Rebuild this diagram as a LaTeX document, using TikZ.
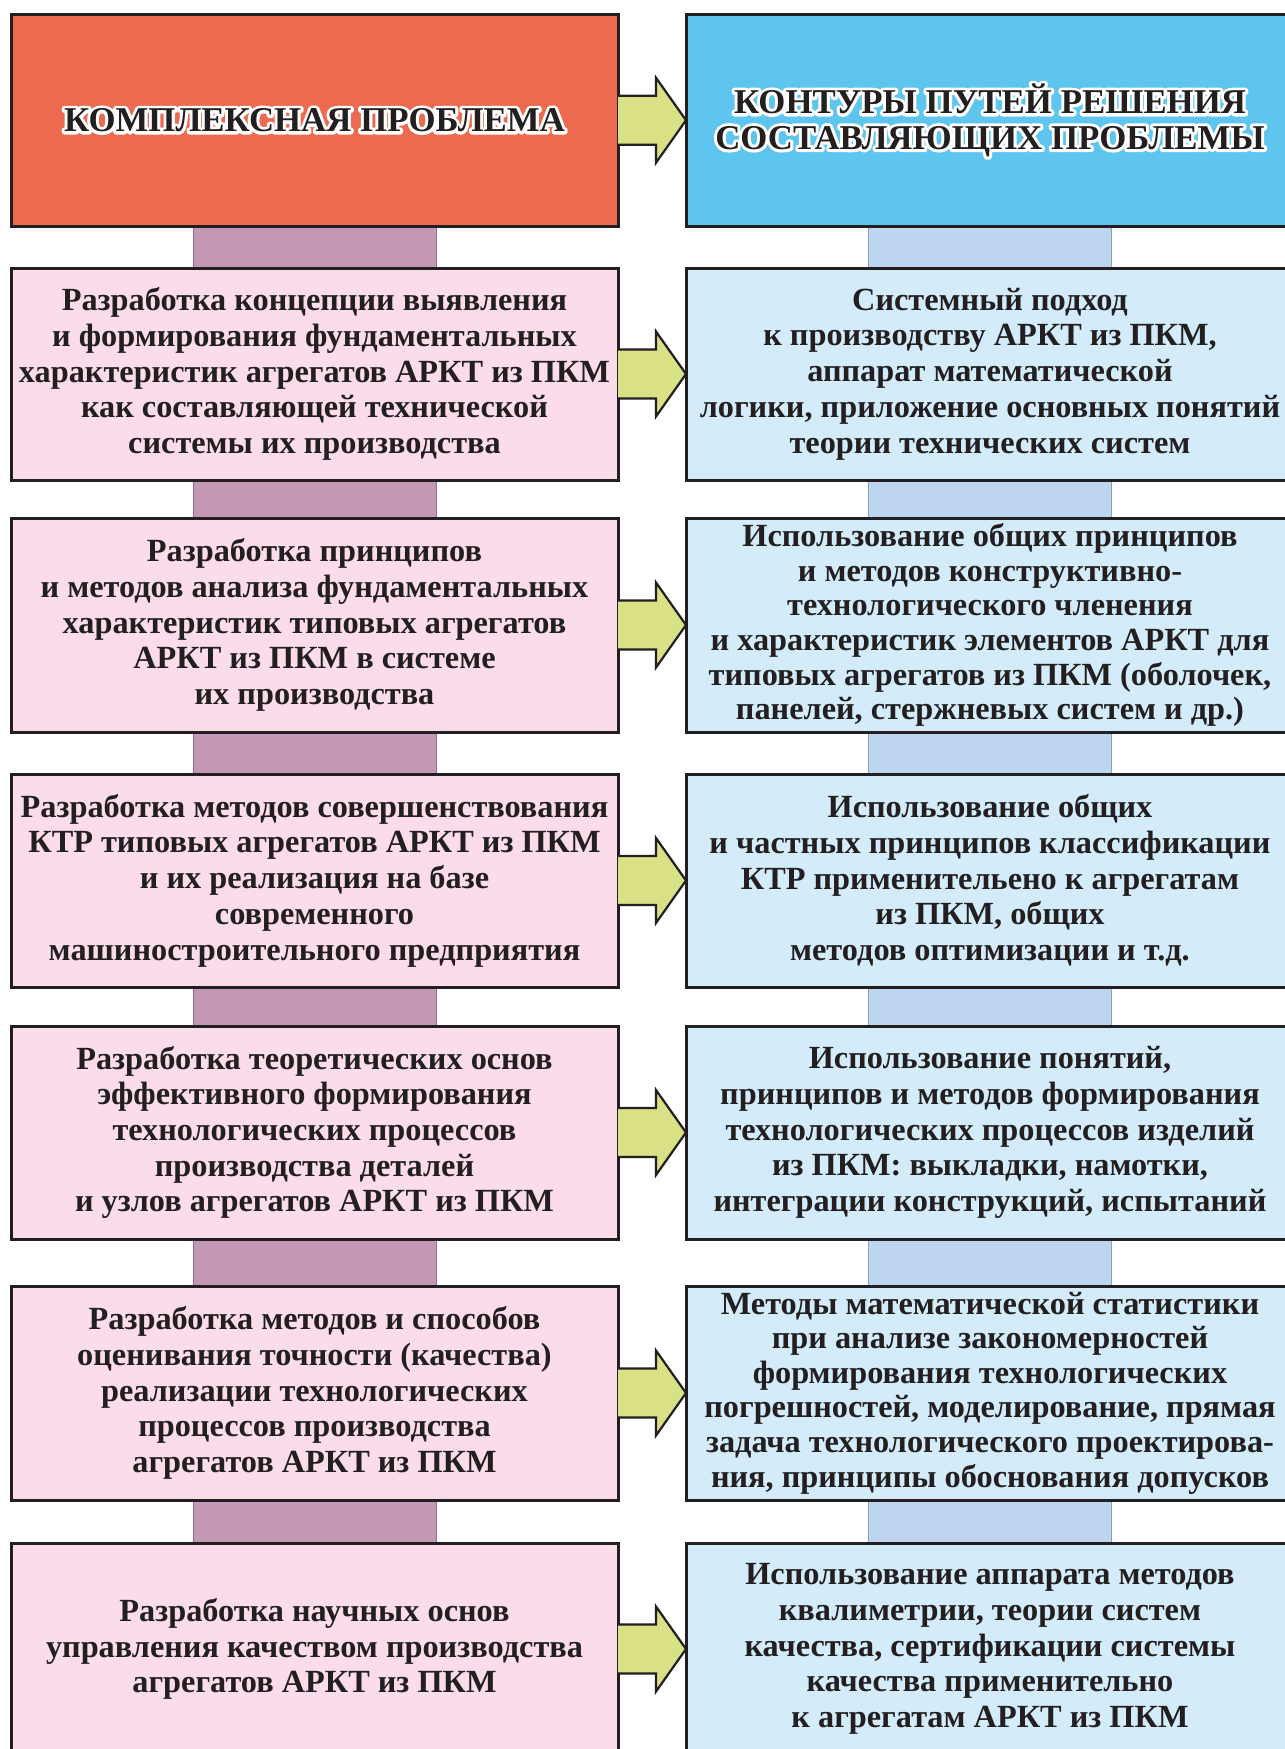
\documentclass[tikz,border=0pt]{standalone}
\usepackage{fontspec}
\setmainfont{Liberation Serif}
\usetikzlibrary{calc,backgrounds}
\definecolor{headL}{RGB}{236,106,80}
\definecolor{headR}{RGB}{94,197,239}
\definecolor{pinkc}{RGB}{250,220,234}
\definecolor{bluec}{RGB}{212,235,250}
\definecolor{lconnc}{RGB}{196,151,181}
\definecolor{lconnb}{RGB}{150,110,138}
\definecolor{rconnc}{RGB}{189,213,239}
\definecolor{rconnb}{RGB}{140,160,185}
\definecolor{arrowc}{RGB}{217,224,133}
\definecolor{bordc}{RGB}{35,31,32}
\definecolor{textc}{RGB}{35,31,32}
% white outline behind header text (stroked copy drawn first)
\newcommand\haloline[1]{\leavevmode\rlap{\color{white}\special{pdf:literal 2 Tr 6 w 1 j}#1\special{pdf:literal 0 Tr 0 j}}#1}
\newcommand\wsp{\hspace{9pt}}
\newcommand\bigarrow[2]{%
  \fill[arrowfill] ($(#1.east)+(0,-24.5)$) -- ++(38,0) -- ++(0,-18) -- (#2.west) -- ($(#1.east)+(38,42.5)$) -- ++(0,-18) -- ($(#1.east)+(0,24.5)$) -- cycle;
  \draw[arrowline] ($(#1.east)+(0,-24.5)$) -- ++(38,0) -- ++(0,-18) -- (#2.west) -- ($(#1.east)+(38,42.5)$) -- ++(0,-18) -- ($(#1.east)+(0,24.5)$);}
\newcommand\lconnect[2]{\filldraw[lconn] ($(#1.south)+(-121.5,0)$) rectangle ($(#2.north)+(121.5,0)$);}
\newcommand\rconnect[2]{\filldraw[rconn] ($(#1.south)+(-121.5,0)$) rectangle ($(#2.north)+(121.5,0)$);}
\tikzset{
  box/.style={draw=bordc, line width=3pt, minimum height=212pt, anchor=north west,
    align=center, inner sep=0pt, outer sep=0pt, text=textc,
    font=\fontsize{32.3}{35.7}\selectfont\bfseries},
  lbox/.style={box, fill=pinkc, minimum width=607pt},
  rbox/.style={box, fill=bluec, minimum width=608pt},
  hbox/.style={box, font=\fontsize{34.8}{35.7}\selectfont\bfseries},
  arrowfill/.style={fill=arrowc},
  arrowline/.style={draw=bordc, line width=2.2pt, line join=miter},
  lconn/.style={fill=lconnc, draw=lconnb, line width=0.8pt},
  rconn/.style={fill=rconnc, draw=rconnb, line width=0.8pt},
}
\begin{document}
\begin{tikzpicture}[x=1pt,y=-1pt]
\useasboundingbox (0,0) rectangle (1285,1749);
\clip (0,0) rectangle (1285,1749);
% header
\node[hbox, fill=headL, minimum width=607pt, minimum height=211.5pt] (L0) at (11,14.5) {\haloline{КОМПЛЕКСНАЯ\wsp ПРОБЛЕМА}};
\node[hbox, fill=headR, minimum width=608pt, minimum height=211.5pt] (R0) at (686,14.5) {\haloline{КОНТУРЫ\wsp ПУТЕЙ\wsp РЕШЕНИЯ}\\\haloline{СОСТАВЛЯЮЩИХ\wsp ПРОБЛЕМЫ}};
% rows
\node[lbox] (L1) at (11,268) {Разработка концепции выявления\\и формирования фундаментальных\\характеристик агрегатов АРКТ из ПКМ\\как составляющей технической\\системы их производства};
\node[rbox] (R1) at (686,268) {Системный подход\\к производству АРКТ из ПКМ,\\аппарат математической\\логики, приложение основных понятий\\теории технических систем};
\node[lbox, minimum height=214pt] (L2) at (11,518) {Разработка принципов\\и методов анализа фундаментальных\\характеристик типовых агрегатов\\АРКТ из ПКМ в системе\\их производства};
\node[rbox, minimum height=214pt, font=\fontsize{32.3}{34.6}\selectfont\bfseries] (R2) at (686,518) {Использование общих принципов\\и методов конструктивно-\\технологического членения\\и характеристик элементов АРКТ для\\типовых агрегатов из ПКМ (оболочек,\\панелей, стержневых систем и др.)};
\node[lbox, minimum height=213pt] (L3) at (11,774) {Разработка методов совершенствования\\КТР типовых агрегатов АРКТ из ПКМ\\и их реализация на базе\\современного\\машиностроительного предприятия};
\node[rbox, minimum height=213pt] (R3) at (686,774) {Использование общих\\и частных принципов классификации\\КТР применительено к агрегатам\\из ПКМ, общих\\методов оптимизации и т.д.};
\node[lbox, minimum height=213pt] (L4) at (11,1026) {Разработка теоретических основ\\эффективного формирования\\технологических процессов\\производства деталей\\и узлов агрегатов АРКТ из ПКМ};
\node[rbox, minimum height=213pt] (R4) at (686,1026) {Использование понятий,\\принципов и методов формирования\\технологических процессов изделий\\из ПКМ: выкладки, намотки,\\интеграции конструкций, испытаний};
\node[lbox, minimum height=214pt] (L5) at (11,1286) {Разработка методов и способов\\оценивания точности (качества)\\реализации технологических\\процессов производства\\агрегатов АРКТ из ПКМ};
\node[rbox, minimum height=214pt, font=\fontsize{32.3}{34.6}\selectfont\bfseries] (R5) at (686,1286) {Методы математической статистики\\при анализе закономерностей\\формирования технологических\\погрешностей, моделирование, прямая\\задача технологического проектирова-\\ния, принципы обоснования допусков};
\node[lbox] (L6) at (11,1543) {Разработка научных основ\\управления качеством производства\\агрегатов АРКТ из ПКМ};
\node[rbox] (R6) at (686,1543) {Использование аппарата методов\\квалиметрии, теории систем\\качества, сертификации системы\\качества применительно\\к агрегатам АРКТ из ПКМ};
% background and vertical connectors
\begin{scope}[on background layer]
\fill[white] (0,0) rectangle (1285,1749);
\lconnect{L0}{L1} \lconnect{L1}{L2} \lconnect{L2}{L3} \lconnect{L3}{L4} \lconnect{L4}{L5} \lconnect{L5}{L6}
\rconnect{R0}{R1} \rconnect{R1}{R2} \rconnect{R2}{R3} \rconnect{R3}{R4} \rconnect{R4}{R5} \rconnect{R5}{R6}
\end{scope}
% arrows
\bigarrow{L0}{R0} \bigarrow{L1}{R1} \bigarrow{L2}{R2} \bigarrow{L3}{R3}
\bigarrow{L4}{R4} \bigarrow{L5}{R5} \bigarrow{L6}{R6}
\end{tikzpicture}
\end{document}
